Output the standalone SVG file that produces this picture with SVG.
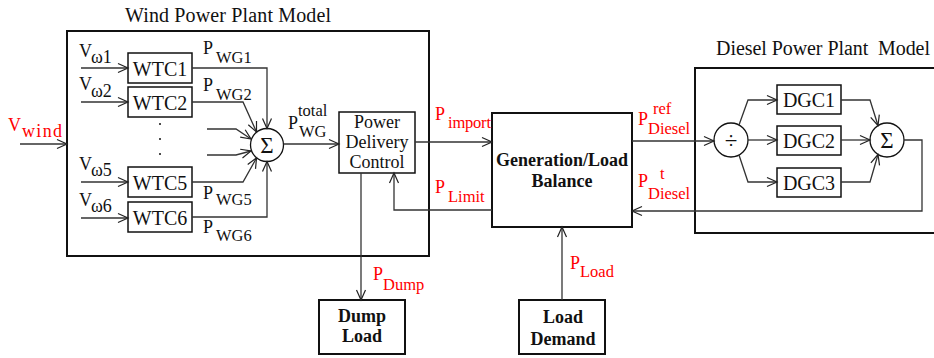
<svg xmlns="http://www.w3.org/2000/svg" width="934" height="358" viewBox="0 0 934 358">
<style>
text{font-family:"Liberation Serif","Times New Roman",serif;fill:#111}
.t20{font-size:20px}
.sym{font-size:23px}
.bold{font-weight:bold;font-size:18px}
.red{fill:#ff0000}
.box{fill:#fff;stroke:#111;stroke-width:1.5}
.frame{fill:none;stroke:#111;stroke-width:2}
.w{fill:none;stroke:#333;stroke-width:1.3}
.p{font-size:18px}
.s{font-size:16.5px}
.v{font-size:18px}
</style>
<defs>
<marker id="ar" markerUnits="userSpaceOnUse" markerWidth="14" markerHeight="12" refX="12" refY="6" orient="auto" overflow="visible">
<path d="M2,1.5 L12,6 L2,10.5" fill="none" stroke="#222" stroke-width="1.2"/>
</marker>
</defs>
<rect width="934" height="358" fill="#fff"/>

<g id="wind-plant">
<rect class="frame" x="67" y="31" width="362" height="225"/>
<text class="t20" x="125" y="22" textLength="206">Wind Power Plant Model</text>
</g>

<g id="diesel-plant">
<path class="frame" d="M934,68 H695 V233 H934" stroke-width="1.5"/>
<text class="t20" x="716" y="55" textLength="214" xml:space="preserve">Diesel Power Plant  Model</text>
</g>

<g id="wtc1"><rect class="box" x="128" y="53" width="64" height="30"/><text class="t20" x="160" y="76" text-anchor="middle">WTC1</text></g>
<g id="wtc2"><rect class="box" x="128" y="87" width="64" height="30"/><text class="t20" x="160" y="110" text-anchor="middle">WTC2</text></g>
<g id="wtc5"><rect class="box" x="128" y="167" width="64" height="30"/><text class="t20" x="160" y="190" text-anchor="middle">WTC5</text></g>
<g id="wtc6"><rect class="box" x="128" y="202" width="64" height="30"/><text class="t20" x="160" y="225" text-anchor="middle">WTC6</text></g>
<g id="dots"><circle cx="160" cy="124" r="1" fill="#111"/><circle cx="160" cy="139" r="1" fill="#111"/><circle cx="160" cy="154" r="1" fill="#111"/></g>

<g id="sum-wind"><circle cx="267" cy="145" r="16.5" fill="#fff" stroke="#111" stroke-width="1.3"/><text class="sym" x="267" y="153" text-anchor="middle">Σ</text></g>

<g id="pdc"><rect class="box" x="339" y="112" width="76" height="61"/>
<text x="377" y="128" text-anchor="middle" font-size="18">Power</text>
<text x="377" y="148" text-anchor="middle" font-size="18">Delivery</text>
<text x="377" y="168" text-anchor="middle" font-size="18">Control</text></g>

<g id="genload"><rect class="frame" x="492" y="113" width="140" height="114" fill="#fff"/>
<text class="bold" x="562" y="166" text-anchor="middle" textLength="132">Generation/Load</text>
<text class="bold" x="562" y="187" text-anchor="middle">Balance</text></g>

<g id="dumpload"><rect class="frame" x="319" y="300" width="86" height="54"/>
<text class="bold" x="362" y="322" text-anchor="middle">Dump</text>
<text class="bold" x="362" y="342" text-anchor="middle">Load</text></g>

<g id="loaddemand"><rect class="frame" x="519" y="300" width="86" height="54"/>
<text class="bold" x="563" y="323" text-anchor="middle">Load</text>
<text class="bold" x="563" y="345" text-anchor="middle">Demand</text></g>

<g id="divider"><circle cx="731" cy="140" r="17" fill="#fff" stroke="#111" stroke-width="1.3"/><text class="sym" x="731" y="148" text-anchor="middle">÷</text></g>
<g id="dgc1"><rect class="box" x="777" y="85" width="64" height="29"/><text class="t20" x="809" y="107" text-anchor="middle">DGC1</text></g>
<g id="dgc2"><rect class="box" x="777" y="126" width="64" height="29"/><text class="t20" x="809" y="148" text-anchor="middle">DGC2</text></g>
<g id="dgc3"><rect class="box" x="777" y="168" width="64" height="29"/><text class="t20" x="809" y="190" text-anchor="middle">DGC3</text></g>
<g id="sum-diesel"><circle cx="887" cy="140" r="17" fill="#fff" stroke="#111" stroke-width="1.3"/><text class="sym" x="887" y="148" text-anchor="middle">Σ</text></g>

<g id="connectors">
<path class="w" d="M20,144 H67" marker-end="url(#ar)"/>
<path class="w" d="M81,68 H128" marker-end="url(#ar)"/>
<path class="w" d="M81,102 H128" marker-end="url(#ar)"/>
<path class="w" d="M81,182 H128" marker-end="url(#ar)"/>
<path class="w" d="M81,218 H128" marker-end="url(#ar)"/>
<path class="w" d="M192,68 H267 V128.5" marker-end="url(#ar)"/>
<path class="w" d="M192,102 H243 L256.5,132" marker-end="url(#ar)"/>
<path class="w" d="M207,129 H236 L251,139" marker-end="url(#ar)"/>
<path class="w" d="M207,155 H236 L251,151" marker-end="url(#ar)"/>
<path class="w" d="M192,182 H243 L256.5,158" marker-end="url(#ar)"/>
<path class="w" d="M192,217 H267 V161.5" marker-end="url(#ar)"/>
<path class="w" d="M283.5,144 H339" marker-end="url(#ar)"/>
<path class="w" d="M415,142 H492" marker-end="url(#ar)"/>
<path class="w" d="M492,210 H394 V173" marker-end="url(#ar)"/>
<path class="w" d="M361,173 V300" marker-end="url(#ar)"/>
<path class="w" d="M562,300 V227" marker-end="url(#ar)"/>
<path class="w" d="M632,141 H714" marker-end="url(#ar)"/>
<path class="w" d="M739,125 L748,100 H777" marker-end="url(#ar)"/>
<path class="w" d="M748,140 H777" marker-end="url(#ar)"/>
<path class="w" d="M739,155 L748,182 H777" marker-end="url(#ar)"/>
<path class="w" d="M841,100 H870 L878,125.5" marker-end="url(#ar)"/>
<path class="w" d="M841,140 H870" marker-end="url(#ar)"/>
<path class="w" d="M841,182 H870 L878,154.5" marker-end="url(#ar)"/>
<path class="w" d="M904,140 H922 V211 H632" marker-end="url(#ar)"/>
</g>

<g id="labels">
<text class="red"><tspan x="8" y="131" font-size="18">V</tspan><tspan x="22" y="137" font-size="18" textLength="40">wind</tspan></text>
<text><tspan class="v" x="79" y="57">V</tspan><tspan class="v" x="91" y="63">ω1</tspan></text>
<text><tspan class="v" x="79" y="90">V</tspan><tspan class="v" x="91" y="97">ω2</tspan></text>
<text><tspan class="v" x="79" y="170">V</tspan><tspan class="v" x="91" y="176">ω5</tspan></text>
<text><tspan class="v" x="79" y="206">V</tspan><tspan class="v" x="91" y="212">ω6</tspan></text>
<text><tspan class="p" x="203" y="54">P</tspan><tspan class="s" x="216" y="63">WG1</tspan></text>
<text><tspan class="p" x="203" y="91">P</tspan><tspan class="s" x="216" y="100">WG2</tspan></text>
<text><tspan class="p" x="203" y="199">P</tspan><tspan class="s" x="216" y="205">WG5</tspan></text>
<text><tspan class="p" x="203" y="233">P</tspan><tspan class="s" x="216" y="241">WG6</tspan></text>
<text><tspan class="p" x="288" y="129">P</tspan><tspan class="s" x="298" y="116">total</tspan><tspan class="s" x="299" y="137">WG</tspan></text>
<text class="red"><tspan class="p" x="435" y="120">P</tspan><tspan class="s" x="448" y="128" textLength="43">import</tspan></text>
<text class="red"><tspan class="p" x="435" y="193">P</tspan><tspan class="s" x="448" y="202">Limit</tspan></text>
<text class="red"><tspan class="p" x="373" y="280">P</tspan><tspan class="s" x="383" y="290">Dump</tspan></text>
<text class="red"><tspan class="p" x="570" y="269">P</tspan><tspan class="s" x="580" y="277">Load</tspan></text>
<text class="red"><tspan class="p" x="638" y="125">P</tspan><tspan class="s" x="653" y="114">ref</tspan><tspan class="s" x="648" y="134">Diesel</tspan></text>
<text class="red"><tspan class="p" x="638" y="187">P</tspan><tspan class="s" x="660" y="179">t</tspan><tspan class="s" x="648" y="199">Diesel</tspan></text>
</g>
</svg>
